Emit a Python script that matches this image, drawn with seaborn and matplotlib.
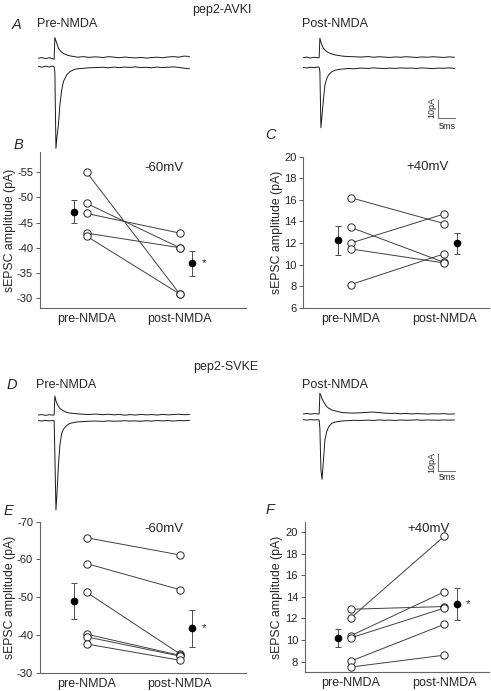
import numpy as np
import pandas as pd
import matplotlib
matplotlib.use('Agg')
import matplotlib.pyplot as plt
import seaborn as sns

sns.set_style('ticks')
plt.rcParams['font.family'] = ['Liberation Sans', 'DejaVu Sans']
plt.rcParams['axes.unicode_minus'] = False

W, H = 491, 691

conditions = ['pre-NMDA', 'post-NMDA']

# paired sEPSC amplitudes (pA), one entry per cell
avki_60_pre = [-55.0, -48.8, -46.8, -42.9, -42.3]
avki_60_post = [-30.8, -40.0, -42.9, -40.0, -30.8]
avki_40_pre = [16.2, 13.45, 12.0, 11.45, 8.15]
avki_40_post = [13.8, 10.2, 14.7, 10.15, 11.0]
svke_60_pre = [-65.75, -58.9, -51.3, -40.2, -39.5, -37.6]
svke_60_post = [-61.2, -52.0, -35.0, -34.6, -34.4, -33.3]
svke_40_pre = [12.85, 12.05, 10.4, 10.2, 8.05, 7.5]
svke_40_post = [13.1, 19.6, 14.45, 12.95, 11.45, 8.6]

# example traces, time in ms, current in pA relative to baseline
t_ms = [0, 1, 2, 3, 4, 4.4, 4.6, 4.9, 5.2, 5.6, 6.0, 6.5, 7.0, 7.9, 8.8, 10, 11, 12.5,
        14, 16, 18, 19.5, 21, 22.5, 24, 25.5, 27, 28.5, 30, 31.5, 33, 34.5, 36, 37.5,
        39, 40.5, 42]
avki_pre_60 = [0.2, -0.3, 0.3, -0.2, 0.3, 0, -3, -44.6, -38, -31.5, -20.9, -12.7, -8.0,
               -4.5, -2.7, -1.5, -1.1, -0.9, -0.6, -0.5, -0.3, -0.6, -0.2, -0.5, -0.2,
               -0.4, -0.1, -0.5, -0.3, -0.6, -0.2, -0.5, -0.3, -0.1, -0.4, -0.8, -1.2]
avki_pre_40 = [0, 0.4, -0.2, 0.3, -0.3, -0.5, 11.3, 9.5, 7.8, 5.5, 4.3, 3.3, 2.6, 1.8,
               1.3, 0.9, 0.6, 0.9, 0.5, 0.8, 0.4, 0.9, 0.6, 0.3, 0.7, 0.4, 0.2, 0.5,
               0.1, 0.4, 0.6, 0.3, 0.7, 0.9, 0.6, 1.2, 1.0]
avki_post_60 = [0.2, -0.2, 0.3, 0, 0.4, 0.2, -2, -32.8, -26, -17.2, -9.5, -6, -4.0, -2.2,
                -1.4, -0.9, -0.7, -0.4, -0.6, -0.2, -0.4, -0.1, -0.3, -0.5, -0.2, -0.4,
                -0.1, -0.3, -0.2, -0.4, -0.1, -0.3, -0.5, -0.2, -0.3, -0.1, -0.4]
avki_post_40 = [0, 0.3, -0.2, 0.2, -0.1, 0, 10.6, 8.5, 6.6, 5.1, 4.2, 3.3, 2.7, 2.0, 1.5,
                1.1, 0.8, 0.6, 0.5, 0.3, 0.6, 0.2, 0.5, 0.3, 0.1, 0.4, 0.2, 0.5, 0.3,
                0.1, 0.4, 0.2, 0.5, 0.3, 0.1, 0.4, 0.2]
svke_pre_60 = [0.1, -0.2, 0.2, -0.1, 0.1, 0, -20, -53.5, -43, -26.5, -14.6, -7.5, -5.0,
               -2.8, -1.6, -1.0, -0.7, -0.5, -0.3, -0.2, -0.4, -0.1, -0.3, -0.2, 0,
               -0.2, -0.1, -0.3, 0, -0.2, 0.1, -0.1, 0.1, -0.2, 0.1, 0, 0.2]
svke_pre_40 = [0, 0.3, -0.2, 0.2, 0, 0, 11.4, 8.5, 6.8, 5.2, 4.0, 3.2, 2.5, 1.6, 1.2, 0.9,
               0.7, 0.5, 0.3, 0.6, 0.2, 0.5, 0.1, 0.4, -0.1, 0.3, 0, 0.4, 0.1, 0.3, 0,
               0.4, 0.1, 0.3, 0.5, 0.2, 0.3]
svke_post_60 = [0.2, -0.1, 0.2, 0, 0.1, 0, -5, -30, -35.5, -24, -12.0, -7.0, -4.3, -2.0,
                -1.3, -0.8, -0.6, -0.4, -0.2, -0.3, -0.1, -0.3, 0, -0.2, -0.1, -0.3, 0,
                -0.2, -0.1, 0.1, -0.2, 0, -0.1, -0.2, 0, -0.1, 0]
svke_post_40 = [0, 0.3, -0.1, 0.2, 0, 0, 12.4, 11.0, 9.0, 7.4, 6.0, 4.4, 3.5, 2.4, 1.8,
                1.2, 0.8, 0.6, 0.5, 0.7, 1.0, 1.1, 0.8, 0.5, 0.3, 0.4, 0.1, 0.3, 0, 0.2,
                0.1, -0.1, 0.1, 0, 0.2, -0.1, 0]

fig = plt.figure(figsize=(W / 100, H / 100), dpi=100)


def px_axes(x0, y0, x1, y1):
    return fig.add_axes([x0 / W, 1 - y1 / H, (x1 - x0) / W, (y1 - y0) / H])


def ftext(x, y, s, **kw):
    fig.text(x / W, 1 - y / H, s, va='center', **kw)


def traces(ax, cur_60, cur_40, offset, ylim):
    sns.lineplot(x=t_ms, y=cur_60, ax=ax, color='0.1', lw=0.7, estimator=None)
    sns.lineplot(x=t_ms, y=np.array(cur_40) + offset, ax=ax, color='0.1', lw=0.7,
                 estimator=None)
    ax.set_xlim(0, 42.3)
    ax.set_ylim(*ylim)
    ax.axis('off')


def scalebar(ax, y0, ybar, yms):
    ax.plot([37.3, 37.3, 42.3], [y0 + 10, y0, y0], color='0.45', lw=0.8)
    ax.text(35.6, ybar, '10pA', rotation=90, fontsize=6.5, ha='center', va='center')
    ax.text(39.9, yms, '5ms', fontsize=6.5, ha='center', va='center')


def paired(ax, pre, post, xlim, ylim, yticks, star):
    n = len(pre)
    df = pd.DataFrame({'cell': list(range(n)) * 2,
                       'cond': [0] * n + [1] * n,
                       'amp': pre + post})
    sns.lineplot(data=df, x='cond', y='amp', units='cell', estimator=None,
                 color='0.25', lw=0.7, ax=ax, legend=False)
    sns.scatterplot(data=df, x='cond', y='amp', s=28, color='white',
                    edgecolor='0.15', linewidth=0.7, ax=ax, zorder=3, legend=False)
    stats = df.groupby('cond')['amp'].agg(['mean', 'sem'])
    xm = stats.index.values + np.array([-0.135, 0.135])
    ax.errorbar(xm, stats['mean'], yerr=stats['sem'], fmt='o', color='black', ms=4.5,
                ecolor='0.3', elinewidth=0.7, capsize=2, capthick=0.7, zorder=4)
    if star:
        ax.text(1.26, stats['mean'][1], '*', fontsize=8, ha='center', va='center')
    ax.set_xlim(*xlim)
    ax.set_ylim(*ylim)
    ax.set_yticks(yticks)
    ax.set_xticks([0, 1])
    ax.set_xticklabels(conditions, fontsize=9)
    ax.tick_params(axis='x', length=0, pad=3.5)
    ax.tick_params(axis='y', length=3, width=0.7, labelsize=8, pad=2, color='0.35')
    ax.set_xlabel('')
    ax.set_ylabel('')
    for s in ['top', 'right']:
        ax.spines[s].set_visible(False)
    for s in ['left', 'bottom']:
        ax.spines[s].set_color('0.4')
        ax.spines[s].set_linewidth(0.8)


# A: pep2-AVKI traces
ax = px_axes(38.3, 30, 190.6, 155)
traces(ax, avki_pre_60, avki_pre_40, 4.6, (-48.25, 20.05))
ax = px_axes(303.3, 30, 455.6, 155)
traces(ax, avki_post_60, avki_post_40, 5.5, (-47.7, 20.6))
scalebar(ax, -27.65, -22.0, -31.9)

# B, C
ax = px_axes(40, 152, 246, 307.7)
paired(ax, avki_60_pre, avki_60_post, (-0.5, 1.71), (-28.1, -59.0),
       [-55, -50, -45, -40, -35, -30], True)
ax = px_axes(303.3, 156.8, 489, 307.7)
paired(ax, avki_40_pre, avki_40_post, (-0.51, 1.48), (6, 20),
       [6, 8, 10, 12, 14, 16, 18, 20], False)

# D: pep2-SVKE traces
ax = px_axes(38.3, 370, 190.6, 515)
traces(ax, svke_pre_60, svke_pre_40, 3.4, (-56.5, 30.4))
ax = px_axes(303.3, 370, 455.6, 515)
traces(ax, svke_post_60, svke_post_40, 3.6, (-56.9, 29.9))
scalebar(ax, -30.4, -25.6, -34.3)

# E, F
ax = px_axes(40, 521.7, 246, 672.7)
paired(ax, svke_60_pre, svke_60_post, (-0.5, 1.71), (-30, -70),
       [-70, -60, -50, -40, -30], True)
ax = px_axes(305, 521.7, 489, 671.7)
paired(ax, svke_40_pre, svke_40_post, (-0.49, 1.48), (7.07, 20.95),
       [8, 10, 12, 14, 16, 18, 20], True)

# labels
ylab = 'sEPSC amplitude (pA)'
ftext(10, 230, ylab, rotation=90, ha='center', fontsize=8.8)
ftext(277, 232, ylab, rotation=90, ha='center', fontsize=8.8)
ftext(10, 597, ylab, rotation=90, ha='center', fontsize=8.8)
ftext(277, 597, ylab, rotation=90, ha='center', fontsize=8.8)

ftext(222, 10, 'pep2-AVKI', ha='center', fontsize=9)
ftext(226, 367, 'pep2-SVKE', ha='center', fontsize=9)
ftext(67, 24, 'Pre-NMDA', ha='center', fontsize=9)
ftext(335, 24, 'Post-NMDA', ha='center', fontsize=9)
ftext(66, 385, 'Pre-NMDA', ha='center', fontsize=9)
ftext(335, 385, 'Post-NMDA', ha='center', fontsize=9)

ftext(163.5, 168, '-60mV', ha='center', fontsize=9.5)
ftext(427.5, 167, '+40mV', ha='center', fontsize=9.5)
ftext(163.5, 529, '-60mV', ha='center', fontsize=9.5)
ftext(428.5, 529, '+40mV', ha='center', fontsize=9.5)

for letter, x, y in [('A', 17, 25), ('B', 18, 145), ('C', 270, 135),
                     ('D', 12, 385), ('E', 8, 511), ('F', 270, 510)]:
    ftext(x, y, letter, ha='center', fontsize=10.5, style='italic')

fig.savefig('out.png', dpi=100)
